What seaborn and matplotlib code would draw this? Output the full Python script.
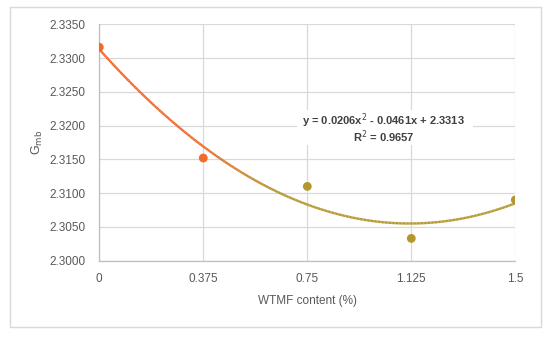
import numpy as np
import pandas as pd
import matplotlib
matplotlib.use("Agg")
import matplotlib.pyplot as plt
import seaborn as sns
from matplotlib.collections import LineCollection
from matplotlib.colors import to_rgb
from matplotlib.patches import Rectangle

# ---- data ----
wtmf = [0, 0.375, 0.75, 1.125, 1.5]
gmb = [2.3316, 2.3152, 2.3110, 2.3033, 2.3090]
point_group = ["a", "a", "b", "b", "b"]
trend_coef = [0.0206, -0.0461, 2.3313]
x_ticks = [0, 0.375, 0.75, 1.125, 1.5]
x_tick_labels = ["0", "0.375", "0.75", "1.125", "1.5"]
y_ticks = [2.3000, 2.3050, 2.3100, 2.3150, 2.3200, 2.3250, 2.3300, 2.3350]
eq_line1 = "y = 0.0206x$^2$ - 0.0461x + 2.3313"
eq_line2 = "R$^2$ = 0.9657"

ORANGE = "#F2692A"
OLIVE = "#B3962C"
GRID = "#D9D9D9"
TXT = "#595959"

sns.set_theme(style="white")
plt.rcParams["font.family"] = ["Liberation Sans", "DejaVu Sans"]

fig = plt.figure(figsize=(5.5, 3.37), dpi=100)
fig.patches.append(Rectangle((10 / 550, 1 - 327 / 337), 531 / 550, 320 / 337,
                             transform=fig.transFigure, fill=False,
                             edgecolor=GRID, linewidth=1.0))
ax = fig.add_axes([99.3 / 550, 1 - 260.7 / 337, 416 / 550, 236.4 / 337])

df = pd.DataFrame({"x": wtmf, "y": gmb, "g": point_group})

# trendline with gradient colour
xs = np.linspace(0, 1.5, 300)
ys = np.polyval(trend_coef, xs)
pts = np.array([xs, ys]).T.reshape(-1, 1, 2)
segs = np.concatenate([pts[:-1], pts[1:]], axis=1)
c1, c2 = np.array(to_rgb(ORANGE)), np.array(to_rgb(OLIVE))
mid = (xs[:-1] + xs[1:]) / 2
t = np.clip((mid - 0.35) / 0.3, 0, 1)[:, None]
cols = c1 * (1 - t) + c2 * t
lc = LineCollection(segs, colors=cols, linewidths=1.7, zorder=3)
ax.add_collection(lc)

sns.scatterplot(data=df, x="x", y="y", hue="g", palette={"a": ORANGE, "b": OLIVE},
                s=40, edgecolor="none", legend=False, ax=ax, zorder=4)

ax.set_xlim(0, 1.5)
ax.set_ylim(2.3000, 2.3350)
ax.set_xticks(x_ticks)
ax.set_xticklabels(x_tick_labels)
ax.set_yticks(y_ticks)
ax.set_yticklabels([f"{v:.4f}" for v in y_ticks])
ax.grid(True, color=GRID, linewidth=0.9)
ax.set_axisbelow(True)
for s in ["top", "right"]:
    ax.spines[s].set_visible(False)
for s in ["left", "bottom"]:
    ax.spines[s].set_color("#BFBFBF")
    ax.spines[s].set_linewidth(0.9)
ax.tick_params(axis="both", length=0, labelsize=8.5, labelcolor=TXT)
ax.tick_params(axis="x", pad=9)
ax.tick_params(axis="y", pad=10)

ax.set_xlabel("WTMF content (%)", fontsize=8.5, color=TXT, labelpad=7)
ax.set_ylabel("G$_{\\mathrm{mb}}$", fontsize=9, color=TXT, labelpad=3)

# white box behind equation
ax.add_patch(Rectangle(((297 - 99.3) / 416, (260.7 - 145) / 236.4),
                       176 / 416, 35 / 236.4, transform=ax.transAxes,
                       facecolor="white", edgecolor="none", zorder=5))
ax.text(0.682, 0.591, eq_line1, transform=ax.transAxes, ha="center", va="center",
        fontsize=8, fontweight="bold", color="#404040", zorder=6)
ax.text(0.684, 0.523, eq_line2, transform=ax.transAxes, ha="center", va="center",
        fontsize=8, fontweight="bold", color="#404040", zorder=6)

fig.savefig("out.png", dpi=100)
